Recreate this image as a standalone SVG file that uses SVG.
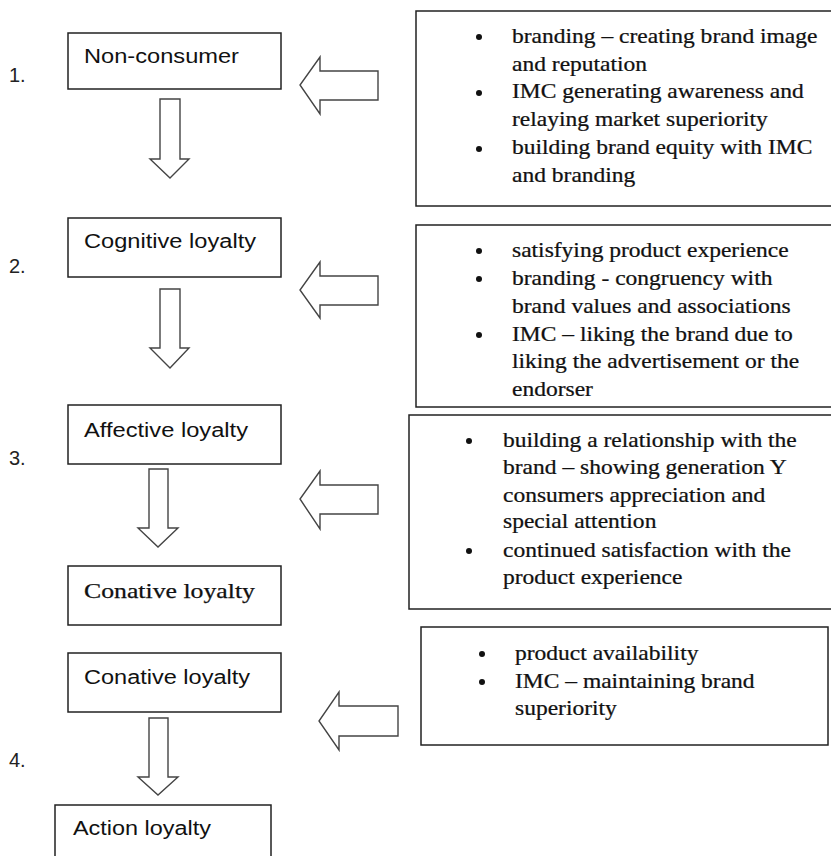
<svg xmlns="http://www.w3.org/2000/svg" width="831" height="856" viewBox="0 0 831 856">
  <style>
    .box { fill: #fff; stroke: #222; stroke-width: 1.5; }
    .arrow { fill: #fff; stroke: #444; stroke-width: 1.4; stroke-linejoin: miter; }
    .lbl { font-family: "Liberation Sans", Arial, sans-serif; font-size: 20px; fill: #111; }
    .num { font-family: "Liberation Sans", Arial, sans-serif; font-size: 20px; fill: #222; }
    .ser { font-family: "Liberation Serif", "Times New Roman", serif; font-size: 21px; fill: #111; stroke: #111; stroke-width: 0.25; }
    .dot { fill: #111; }
  </style>
  <rect width="831" height="856" fill="#fff"/>

  <!-- stage numbers -->
  <g id="numbers">
    <text class="num" x="9" y="82">1.</text>
    <text class="num" x="9" y="273">2.</text>
    <text class="num" x="9" y="465">3.</text>
    <text class="num" x="9" y="767">4.</text>
  </g>

  <!-- loyalty stages -->
  <g id="non-consumer">
    <rect class="box" x="68" y="33" width="213" height="56"/>
    <text class="lbl" x="84" y="63" textLength="155" lengthAdjust="spacingAndGlyphs">Non-consumer</text>
  </g>
  <g id="cognitive">
    <rect class="box" x="68" y="218" width="213" height="59"/>
    <text class="lbl" x="84" y="248" textLength="172" lengthAdjust="spacingAndGlyphs">Cognitive loyalty</text>
  </g>
  <g id="affective">
    <rect class="box" x="68" y="405" width="213" height="59"/>
    <text class="lbl" x="84" y="437" textLength="164" lengthAdjust="spacingAndGlyphs">Affective loyalty</text>
  </g>
  <g id="conative-1">
    <rect class="box" x="68" y="566" width="213" height="59"/>
    <text class="ser" x="84" y="598" font-size="22" textLength="171" lengthAdjust="spacingAndGlyphs">Conative loyalty</text>
  </g>
  <g id="conative-2">
    <rect class="box" x="68" y="653" width="213" height="59"/>
    <text class="lbl" x="84" y="684" textLength="166" lengthAdjust="spacingAndGlyphs">Conative loyalty</text>
  </g>
  <g id="action">
    <rect class="box" x="55" y="805" width="216" height="60"/>
    <text class="lbl" x="73" y="835" textLength="138" lengthAdjust="spacingAndGlyphs">Action loyalty</text>
  </g>

  <!-- driver boxes; bullet text is set slightly wide -->
  <g id="drivers-1">
    <rect class="box" x="416" y="11" width="420" height="195"/>
    <circle class="dot" cx="479" cy="37" r="3"/>
    <circle class="dot" cx="479" cy="93" r="3"/>
    <circle class="dot" cx="479" cy="149" r="3"/>
    <g transform="translate(512,0) scale(1.12,1)">
      <text class="ser" x="0" y="43">branding – creating brand image</text>
      <text class="ser" x="0" y="71">and reputation</text>
      <text class="ser" x="0" y="98">IMC generating awareness and</text>
      <text class="ser" x="0" y="126">relaying market superiority</text>
      <text class="ser" x="0" y="154">building brand equity with IMC</text>
      <text class="ser" x="0" y="182">and branding</text>
    </g>
  </g>
  <g id="drivers-2">
    <rect class="box" x="416" y="225" width="420" height="182"/>
    <circle class="dot" cx="479" cy="251" r="3"/>
    <circle class="dot" cx="479" cy="279" r="3"/>
    <circle class="dot" cx="479" cy="335" r="3"/>
    <g transform="translate(512,0) scale(1.12,1)">
      <text class="ser" x="0" y="257">satisfying product experience</text>
      <text class="ser" x="0" y="285">branding - congruency with</text>
      <text class="ser" x="0" y="313">brand values and associations</text>
      <text class="ser" x="0" y="341">IMC – liking the brand due to</text>
      <text class="ser" x="0" y="368">liking the advertisement or the</text>
      <text class="ser" x="0" y="396">endorser</text>
    </g>
  </g>
  <g id="drivers-3">
    <rect class="box" x="409" y="415" width="430" height="194"/>
    <circle class="dot" cx="469" cy="441" r="3"/>
    <circle class="dot" cx="469" cy="551" r="3"/>
    <g transform="translate(503,0) scale(1.12,1)">
      <text class="ser" x="0" y="447">building a relationship with the</text>
      <text class="ser" x="0" y="474">brand – showing generation Y</text>
      <text class="ser" x="0" y="502">consumers appreciation and</text>
      <text class="ser" x="0" y="528">special attention</text>
      <text class="ser" x="0" y="557">continued satisfaction with the</text>
      <text class="ser" x="0" y="584">product experience</text>
    </g>
  </g>
  <g id="drivers-4">
    <rect class="box" x="421" y="627" width="407" height="118"/>
    <circle class="dot" cx="482" cy="654" r="3"/>
    <circle class="dot" cx="482" cy="682" r="3"/>
    <g transform="translate(515,0) scale(1.12,1)">
      <text class="ser" x="0" y="660">product availability</text>
      <text class="ser" x="0" y="688">IMC – maintaining brand</text>
      <text class="ser" x="0" y="715">superiority</text>
    </g>
  </g>

  <!-- block arrows -->
  <g id="connectors">
    <polygon class="arrow" points="160,99 180,99 180,159 189,159 170,178 150,159 160,159"/>
    <polygon class="arrow" points="160,289 180,289 180,348 189,348 170,368 150,348 160,348"/>
    <polygon class="arrow" points="149,469 168,469 168,528 178,528 158,547 138,528 149,528"/>
    <polygon class="arrow" points="149,718 168,718 168,777 178,777 158,795 138,777 149,777"/>

    <polygon class="arrow" points="378,71 320,71 320,57 300,85 320,114 320,100 378,100"/>
    <polygon class="arrow" points="378,276 320,276 320,262 300,290 320,318 320,305 378,305"/>
    <polygon class="arrow" points="378,485 320,485 320,471 300,499 320,529 320,514 378,514"/>
    <polygon class="arrow" points="398,706 339,706 339,692 319,721 339,750 339,736 398,736"/>
  </g>
</svg>
